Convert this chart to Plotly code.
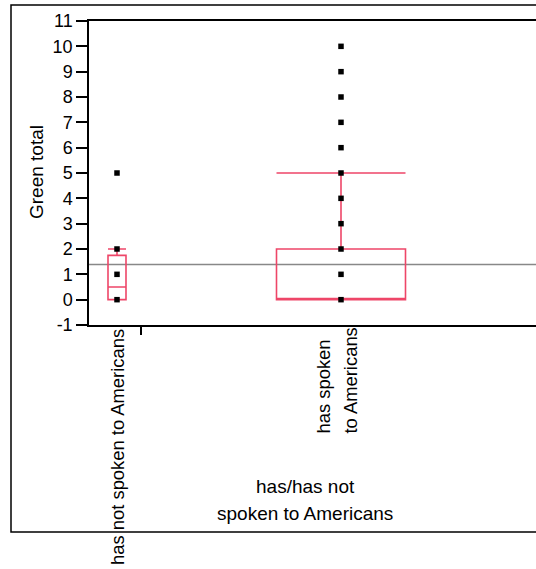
import plotly.graph_objects as go

# ---- data ----
categories = ["has not spoken to Americans", "has spoken<br>to Americans"]
cat_positions = [28, 252]          # category centres on the x scale
group_boundary = 52                # tick between the two groups
box_widths = [18, 129]

points_not = [0, 1, 2, 5]
points_has = [0, 1, 2, 3, 4, 5, 6, 7, 8, 9, 10]

q1 = [0, 0]
median = [0.5, 0]
q3 = [1.75, 2]
lowerfence = [0, 0]
upperfence = [2, 5]
grand_mean = 1.39

y_ticks = list(range(-1, 12))
y_ticklabels = [str(v) for v in y_ticks]

x_title_lines = ["has/has not", "spoken to Americans"]
y_title = "Green total"

BOX_COLOR = "#EE4668"
FONT = "Liberation Sans, Arial, sans-serif"
LABEL_SIZE = 19
CAT_SIZE = 18.4
LINE_GAP = 27  # px between label lines

# plot-area geometry helpers (pixels)
PL, PR, PT, PB, H = 89, 536, 21, 325, 569
def px_x(p):
    return (p - PL) / (PR - PL)
def px_y(p):
    return (PB - p) / (PB - PT)

fig = go.Figure()

# boxes
for i in range(2):
    fig.add_trace(go.Box(
        x=[cat_positions[i]], q1=[q1[i]], median=[median[i]], q3=[q3[i]],
        lowerfence=[lowerfence[i]], upperfence=[upperfence[i]],
        width=box_widths[i], whiskerwidth=1,
        line=dict(color=BOX_COLOR, width=1.6),
        fillcolor="rgba(0,0,0,0)", boxpoints=False, showlegend=False,
        hoverinfo="skip",
    ))

# grand mean line
fig.add_shape(type="line", xref="paper", x0=0, x1=1, yref="y",
              y0=grand_mean, y1=grand_mean,
              line=dict(color="#888888", width=1.5), layer="below")

# points
fig.add_trace(go.Scatter(
    x=[cat_positions[0]] * len(points_not), y=points_not, mode="markers",
    marker=dict(symbol="square", size=5.5, color="black"), showlegend=False))
fig.add_trace(go.Scatter(
    x=[cat_positions[1]] * len(points_has), y=points_has, mode="markers",
    marker=dict(symbol="square", size=5.5, color="black"), showlegend=False))

# category labels (rotated, lines bottom-aligned like the original)
for pos, lab in zip(cat_positions, categories):
    lines = lab.split("<br>")
    if len(lines) == 1:
        fig.add_annotation(x=pos, xref="x", y=px_y(327), yref="paper",
                           text=lab, textangle=-90, showarrow=False,
                           xanchor="center", yanchor="top",
                           font=dict(family=FONT, size=CAT_SIZE, color="black"))
    else:
        n = len(lines)
        for k, ln in enumerate(lines):
            off = (k - (n - 1) / 2) * LINE_GAP - 5
            fig.add_annotation(x=pos, xref="x", xshift=off,
                               y=px_y(436), yref="paper",
                               text=ln, textangle=-90, showarrow=False,
                               xanchor="center", yanchor="bottom",
                               font=dict(family=FONT, size=CAT_SIZE, color="black"))

# x-axis title (two lines)
for k, ln in enumerate(x_title_lines):
    fig.add_annotation(xref="paper", x=px_x(305), yref="paper",
                       y=px_y(486 + k * LINE_GAP),
                       xanchor="center", yanchor="middle",
                       text=ln, showarrow=False,
                       font=dict(family=FONT, size=LABEL_SIZE, color="black"))

# y-axis title
fig.add_annotation(xref="paper", x=px_x(36), yref="paper", y=px_y(172),
                   text=y_title, textangle=-90, showarrow=False,
                   xanchor="center", yanchor="middle",
                   font=dict(family=FONT, size=LABEL_SIZE, color="black"))

# outer frame
fig.add_shape(type="rect", xref="paper", yref="paper",
              x0=px_x(11), x1=1.2, y0=px_y(532), y1=px_y(5),
              line=dict(color="black", width=1.5))

fig.update_layout(
    width=536, height=569,
    margin=dict(l=PL, r=0, t=PT, b=H - PB),
    paper_bgcolor="white", plot_bgcolor="white",
    font=dict(family=FONT, size=18, color="black"),
    xaxis=dict(range=[0, 447], showgrid=False, zeroline=False,
               showline=True, linecolor="black", linewidth=1.5, mirror=True,
               tickvals=cat_positions, ticktext=["", ""], ticks="",
               minor=dict(tickmode="array", tickvals=[group_boundary],
                          ticks="outside", ticklen=8, tickcolor="black",
                          tickwidth=1.5, showgrid=False)),
    yaxis=dict(range=[-1, 11], tickvals=y_ticks, ticktext=y_ticklabels,
               showgrid=False, zeroline=False,
               showline=True, linecolor="black", linewidth=1.5,
               ticks="outside", ticklen=11, tickcolor="black", tickwidth=1.5,
               tickfont=dict(family=FONT, size=18)),
)

fig.write_html(
    "out.html",
    config={"displayModeBar": False},
    post_script="document.body.style.margin='0';document.body.style.overflow='hidden';",
)
